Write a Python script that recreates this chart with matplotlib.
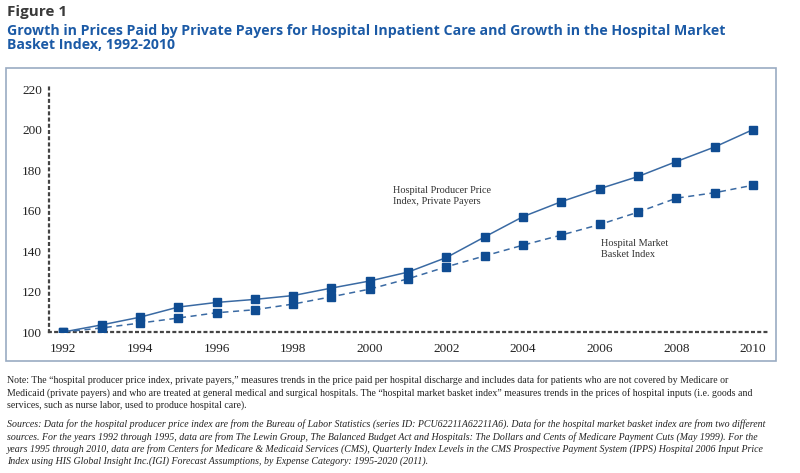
import matplotlib.pyplot as plt
from matplotlib.patches import Rectangle

# Data
years = list(range(1992, 2011))
producer_price = [100, 103.5, 107.3, 112.3, 114.6, 116.1, 118.0, 121.7, 125.2,
                  129.6, 136.8, 147.0, 157.0, 164.4, 170.8, 176.8, 184.2, 191.4, 200.0]
market_basket = [100, 102.0, 104.4, 106.9, 109.5, 111.0, 113.8, 117.4, 121.2,
                 126.3, 132.2, 137.6, 142.9, 147.9, 153.1, 159.2, 166.1, 168.8, 172.5]
xticks = list(range(1992, 2011, 2))
yticks = [100, 120, 140, 160, 180, 200, 220]

MARK_COLOR = '#0f4c92'
LINE_COLOR = '#3a6aa3'
TITLE_BLUE = '#1b5aa6'
SERIF = 'Liberation Serif'

note = ('Note: The \u201chospital producer price index, private payers,\u201d measures trends in the price paid '
        'per hospital discharge and includes data for patients who are not covered by Medicare or\n'
        'Medicaid (private payers) and who are treated at general medical and surgical hospitals. '
        'The \u201chospital market basket index\u201d measures trends in the prices of hospital inputs (i.e. goods and\n'
        'services, such as nurse labor, used to produce hospital care).')
sources = ('Sources: Data for the hospital producer price index are from the Bureau of Labor Statistics '
           '(series ID: PCU62211A62211A6). Data for the hospital market basket index are from two different\n'
           'sources. For the years 1992 through 1995, data are from The Lewin Group, The Balanced Budget Act '
           'and Hospitals: The Dollars and Cents of Medicare Payment Cuts (May 1999). For the\n'
           'years 1995 through 2010, data are from Centers for Medicare & Medicaid Services (CMS), Quarterly '
           'Index Levels in the CMS Prospective Payment System (IPPS) Hospital 2006 Input Price\n'
           'Index using HIS Global Insight Inc.(IGI) Forecast Assumptions, by Expense Category: 1995-2020 (2011).')

W, H = 800, 473
fig = plt.figure(figsize=(8, 4.73), dpi=100)


def fx(px):
    return px / W


def fy(py):
    return 1 - py / H


# header
fig.text(fx(7), fy(12), 'Figure 1', fontsize=11, fontweight='bold', color='#3a3a3a',
         family='Open Sans', va='center', ha='left')
fig.text(fx(7), fy(38), 'Growth in Prices Paid by Private Payers for Hospital Inpatient Care and '
         'Growth in the Hospital Market\nBasket Index, 1992-2010', fontsize=10.2, fontweight='bold',
         color=TITLE_BLUE, family='Open Sans', va='center', ha='left', linespacing=1.05)

# frame around the chart
fig.patches.append(Rectangle((fx(6), fy(361)), fx(776) - fx(6), fy(68) - fy(361),
                             transform=fig.transFigure, fill=False, edgecolor='#9aabc2',
                             linewidth=1.2))

ax = fig.add_axes([fx(49), fy(332), fx(770) - fx(49), fy(87) - fy(332)])
ax.plot(years, producer_price, color=LINE_COLOR, linewidth=1.1, linestyle='-',
        marker='s', markersize=5.3, markerfacecolor=MARK_COLOR, markeredgecolor=MARK_COLOR, zorder=3)
ax.plot(years, market_basket, color=LINE_COLOR, linewidth=1.1, linestyle=(0, (4, 3)),
        marker='s', markersize=5.3, markerfacecolor=MARK_COLOR, markeredgecolor=MARK_COLOR, zorder=3)

ax.set_xlim(1991.63, 2010.44)
ax.set_ylim(100, 221)
ax.set_xticks(xticks)
ax.set_yticks(yticks)
ax.tick_params(length=0, labelsize=9.5, colors='#222222')
ax.tick_params(axis='x', pad=8)
ax.tick_params(axis='y', pad=5)
for lab in ax.get_xticklabels() + ax.get_yticklabels():
    lab.set_family(SERIF)
for side in ['top', 'right']:
    ax.spines[side].set_visible(False)
for side in ['left', 'bottom']:
    ax.spines[side].set_linestyle((0, (0.8, 2.0)))
    ax.spines[side].set_linewidth(1.6)
    ax.spines[side].set_color('#444444')
ax.set_facecolor('none')

ax.text(2000.6, 167, 'Hospital Producer Price\nIndex, Private Payers', fontsize=7.4,
        family=SERIF, color='#333333', va='center', ha='left', linespacing=1.25)
ax.text(2006.03, 141, 'Hospital Market\nBasket Index', fontsize=7.4,
        family=SERIF, color='#333333', va='center', ha='left', linespacing=1.25)

# notes below the frame
fig.text(fx(7), fy(392.5), note, fontsize=7.15, family=SERIF, color='#222222',
         va='center', ha='left', linespacing=1.33)
fig.text(fx(7), fy(443), sources, fontsize=7.15, family=SERIF, style='italic', color='#222222',
         va='center', ha='left', linespacing=1.33)

fig.savefig('out.png', dpi=100)
plt.close(fig)
